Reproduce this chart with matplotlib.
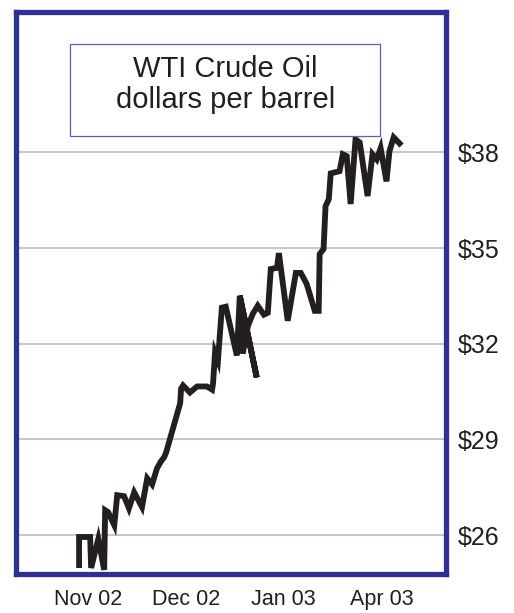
import matplotlib
matplotlib.use("Agg")
import matplotlib.pyplot as plt
from matplotlib.patches import Rectangle

# position along the x axis in days from the "Nov 02" tick, price in $/barrel
days = [-2.8, -2.8, 0.6, 0.9, 3.1, 4.9, 5.2, 6.1, 8.0, 8.9,
        11.0, 12.5, 14.1, 16.5, 18.1, 19.6, 21.1, 22.3, 23.3, 23.9,
        28.2, 28.5, 29.1, 31.2, 33.4, 36.4, 38.0, 38.3, 38.9, 39.8,
        41.0, 42.2, 45.6, 46.5, 51.7, 46.5, 47.4, 49.0, 50.5, 52.0,
        53.9, 55.1, 56.0, 57.9, 58.5, 61.2, 63.7, 65.2, 67.0, 69.5,
        70.7, 71.0, 72.2, 72.8, 73.8, 74.4, 77.1, 78.1, 79.3, 80.5,
        82.0, 83.3, 85.7, 87.2, 88.5, 89.7, 91.5, 92.4, 93.7, 95.5]
price = [25.06, 25.94, 25.94, 24.97, 25.88, 24.91, 26.78, 26.72, 26.31, 27.25,
         27.22, 26.84, 27.34, 26.88, 27.78, 27.59, 28.09, 28.31, 28.44, 28.59,
         30.13, 30.59, 30.69, 30.47, 30.66, 30.66, 30.56, 30.75, 31.72, 31.47,
         33.13, 33.16, 31.63, 33.50, 30.94, 33.50, 31.69, 32.56, 32.94, 33.19,
         32.91, 32.97, 34.34, 34.38, 34.84, 32.72, 34.22, 34.22, 33.88, 33.03,
         33.03, 34.81, 34.97, 36.31, 36.53, 37.34, 37.41, 37.94, 37.88, 36.38,
         38.41, 38.31, 36.63, 37.94, 37.78, 38.13, 37.09, 38.03, 38.47, 38.28]

x_ticks = [0, 30, 60, 90]
x_labels = ["Nov 02", "Dec 02", "Jan 03", "Apr 03"]
y_ticks = [26, 29, 32, 35, 38]
y_labels = ["$26", "$29", "$32", "$35", "$38"]

title_lines = ["WTI Crude Oil", "dollars per barrel"]

frame_blue = "#2E3192"
ink = "#231F20"

fig = plt.figure(figsize=(5.14, 6.13), dpi=100)
ax = fig.add_axes([15.5 / 514, 1 - 574 / 613, 430 / 514, 562 / 613])

ax.plot(days, price, color=ink, lw=4.2, solid_joinstyle="miter", zorder=3)

ax.set_xlim(-22.3, 109.6)
ax.set_ylim(24.78, 42.4)

ax.set_yticks(y_ticks)
ax.set_yticklabels(y_labels, fontsize=18, family="Liberation Sans", color=ink)
ax.yaxis.tick_right()
ax.tick_params(axis="y", length=0, pad=9)
ax.set_xticks(x_ticks)
ax.set_xticklabels(x_labels, fontsize=15.5, color=ink, family="Liberation Sans")
ax.tick_params(axis="x", length=0, pad=11)

ax.grid(axis="y", color="#C2C8CE", lw=1.5, zorder=1)
ax.grid(axis="x", visible=False)

for s in ax.spines.values():
    s.set_color(frame_blue)
    s.set_linewidth(3.8)

# title box
ax.add_patch(Rectangle((0.1267, 0.779), 0.721, 0.164, transform=ax.transAxes,
                       fill=True, facecolor="white", edgecolor="#5B5EB8",
                       lw=0.9, zorder=4))
ax.text(0.488, 0.8843, title_lines[0], transform=ax.transAxes, ha="center",
        va="baseline", fontsize=21, family="Liberation Sans", color=ink, zorder=5)
ax.text(0.488, 0.8292, title_lines[1], transform=ax.transAxes, ha="center",
        va="baseline", fontsize=21, family="Liberation Sans", color=ink, zorder=5)

fig.savefig("out.png", dpi=100)
